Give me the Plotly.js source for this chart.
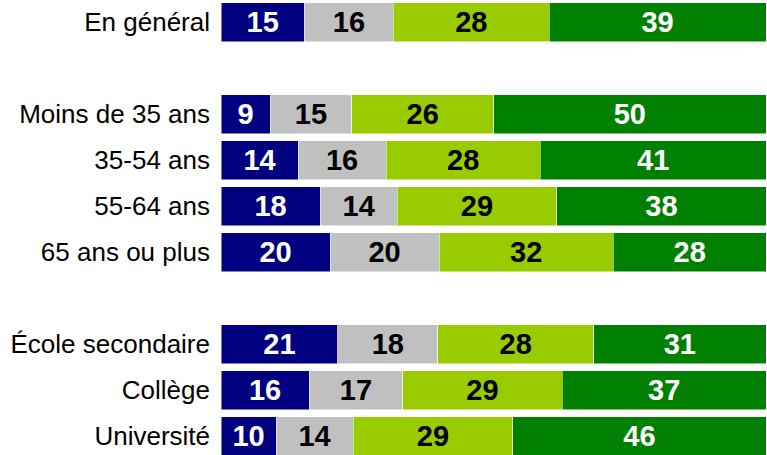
<!DOCTYPE html>
<html>
<head>
<meta charset="utf-8">
<script src="https://cdn.plot.ly/plotly-3.0.1.min.js"></script>
<style>
  html, body { margin: 0; padding: 0; background: #fff; }
  #chart { width: 767px; height: 455px; }
</style>
</head>
<body>
<div id="chart"></div>
<script>
var groups = ['En général', 'Moins de 35 ans', '35-54 ans', '55-64 ans', '65 ans ou plus',
  'École secondaire', 'Collège', 'Université'];

var navyVals = [15, 9, 14, 18, 20, 21, 16, 10];
var grayVals = [16, 15, 16, 14, 20, 18, 17, 14];
var limeVals = [28, 26, 28, 29, 32, 28, 29, 29];
var greenVals = [39, 50, 41, 38, 28, 31, 37, 46];

function seg(vals, color, txtColor) {
  return {
    type: 'bar',
    orientation: 'h',
    y: groups,
    x: vals,
    text: vals.map(String),
    textposition: 'inside',
    insidetextanchor: 'middle',
    textangle: 0,
    constraintext: 'none',
    textfont: { family: 'Liberation Sans, Arial, sans-serif', size: 29, color: txtColor, weight: 'bold' },
    marker: { color: color, line: { color: '#ffffff', width: 0.5 } },
    width: 0.85,
    hoverinfo: 'skip'
  };
}

var data = [
  seg(navyVals, '#000080', '#ffffff'),
  seg(grayVals, '#c0c0c0', '#000000'),
  seg(limeVals, '#99cc00', '#000000'),
  seg(greenVals, '#008000', '#ffffff')
];

// blank rows separate the three groups
var order = [groups[0], ' ', groups[1], groups[2], groups[3], groups[4], '  ', groups[5], groups[6], groups[7]];

var layout = {
  width: 767,
  height: 455,
  margin: { l: 221, r: 1, t: 0, b: 0 },
  barmode: 'stack',
  barnorm: 'percent',
  showlegend: false,
  hovermode: false,
  paper_bgcolor: '#ffffff',
  plot_bgcolor: '#ffffff',
  xaxis: { visible: false, range: [0, 100], fixedrange: true },
  yaxis: {
    type: 'category',
    categoryorder: 'array',
    categoryarray: order,
    range: [9.41, -0.48],
    showgrid: false,
    zeroline: false,
    showline: false,
    ticks: '',
    ticklabelstandoff: 10,
    tickfont: { family: 'Liberation Sans, Arial, sans-serif', size: 26, color: '#000000' },
    fixedrange: true
  }
};

Plotly.newPlot('chart', data, layout, { displayModeBar: false, staticPlot: true });
</script>
</body>
</html>
